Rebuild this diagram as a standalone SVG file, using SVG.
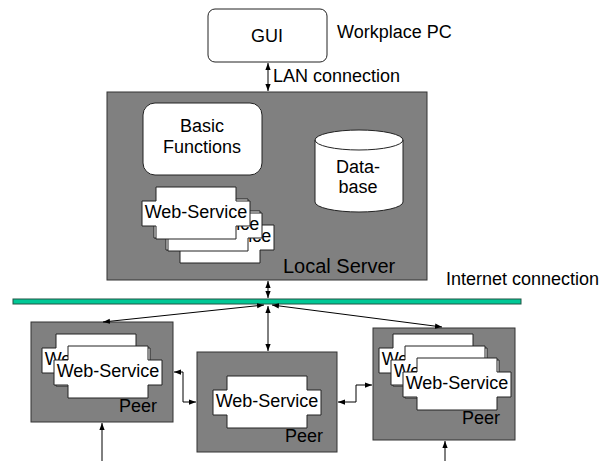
<svg xmlns="http://www.w3.org/2000/svg" xmlns:xlink="http://www.w3.org/1999/xlink" width="609" height="461" viewBox="0 0 609 461">
<style>
text{font-family:"Liberation Sans",Arial,sans-serif;font-size:18px;fill:#000}
.grey{fill:#808080;stroke:#333;stroke-width:1}
.white{fill:#fff;stroke:#222;stroke-width:1}
.conn{fill:none;stroke:#000;stroke-width:1;marker-start:url(#ah);marker-end:url(#ah)}
.one{fill:none;stroke:#000;stroke-width:1;marker-end:url(#ah)}
.mid{text-anchor:middle}
</style>
<defs>
<marker id="ah" viewBox="0 0 8 8" refX="8" refY="4" markerWidth="7" markerHeight="7" markerUnits="userSpaceOnUse" orient="auto-start-reverse">
<path d="M0,1 L8,4 L0,7 Z" fill="#000"/>
</marker>
<g id="ws">
<path class="white" d="M0,0 H80 V14 H94 V39 H80 V52 H0 V39 H-14 V14 H0 Z"/>
<text x="40" y="31" class="mid">Web-Service</text>
</g>
</defs>
<rect width="609" height="461" fill="#fff"/>

<g id="gui">
<rect class="white" x="208" y="9" width="119" height="53" rx="7"/>
<text x="267" y="42" class="mid">GUI</text>
<text x="337" y="38">Workplace PC</text>
</g>

<g id="local-server">
<rect class="grey" x="107" y="92" width="320" height="188"/>
<text x="283" y="273" style="font-size:20px">Local Server</text>
</g>

<g id="basic-functions">
<rect class="white" x="143" y="103" width="119" height="72" rx="12"/>
<text x="202" y="132" class="mid">Basic</text>
<text x="202" y="153" class="mid">Functions</text>
</g>

<g id="database">
<path class="white" d="M315,140 A44,10 0 0 1 403,140 V202 A44,10 0 0 1 315,202 Z"/>
<path fill="none" stroke="#222" d="M315,140 A44,10 0 0 0 403,140"/>
<text x="358" y="173" class="mid">Data-</text>
<text x="358" y="193" class="mid">base</text>
</g>

<g id="local-webservices">
<use xlink:href="#ws" x="180" y="211"/>
<use xlink:href="#ws" x="168" y="199"/>
<use xlink:href="#ws" x="156" y="187"/>
</g>

<g id="internet-bar">
<rect x="13" y="299" width="508" height="5" fill="#00c896" stroke="#225544" stroke-width="1"/>
<text x="446" y="285">Internet connection</text>
</g>

<g id="peer1">
<rect class="grey" x="31" y="322" width="142" height="100"/>
<use xlink:href="#ws" x="56" y="334"/>
<use xlink:href="#ws" x="68" y="346"/>
<text x="119" y="412">Peer</text>
</g>

<g id="peer2">
<rect class="grey" x="197" y="352" width="140" height="100"/>
<use xlink:href="#ws" x="227" y="376"/>
<text x="285" y="442">Peer</text>
</g>

<g id="peer3">
<rect class="grey" x="373" y="328" width="142" height="112"/>
<use xlink:href="#ws" x="393" y="334"/>
<use xlink:href="#ws" x="405" y="346"/>
<use xlink:href="#ws" x="417" y="358"/>
<text x="462" y="424">Peer</text>
</g>

<g id="connectors">
<line class="conn" x1="268" y1="63" x2="268" y2="91"/>
<text x="273" y="82">LAN connection</text>
<line class="conn" x1="268" y1="281" x2="268" y2="298"/>
<line class="conn" x1="264" y1="305" x2="103" y2="322"/>
<line class="conn" x1="268" y1="306" x2="268" y2="351"/>
<line class="conn" x1="272" y1="305" x2="442" y2="327"/>
<polyline class="conn" points="174,372 183,372 183,402 196,402"/>
<polyline class="conn" points="338,402 356,402 356,385 372,385"/>
<line class="one" x1="102" y1="461" x2="102" y2="423"/>
<line class="one" x1="445" y1="461" x2="445" y2="441"/>
</g>
</svg>
